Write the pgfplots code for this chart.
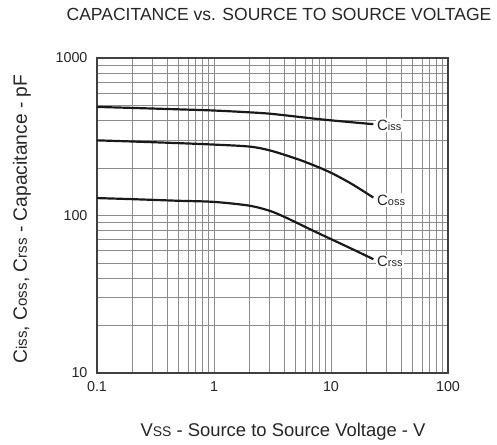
\documentclass[border=0pt]{standalone}
\usepackage{fontspec}
\setmainfont{Liberation Sans}
\usepackage{pgfplots}
\pgfplotsset{compat=1.18}
\definecolor{txt}{gray}{0.15}
\begin{document}
\begin{tikzpicture}[every node/.style={text=txt}]
\begin{loglogaxis}[
  at={(0,0)}, anchor=south west,
  scale only axis, width=351bp, height=315bp,
  xmin=0.1, xmax=100, ymin=10, ymax=1000,
  xtick={0.1,1,10,100}, xticklabels={0.1,1,10,100},
  ytick={10,100,1000}, yticklabels={10,100,1000},
  grid=both,
  major grid style={draw=black!45, line width=0.8pt},
  minor grid style={draw=black!45, line width=0.8pt},
  major tick length=0pt, minor tick length=0pt,
  tick style={draw=none},
  axis line style={draw=black!75, line width=1.6pt},
  ticklabel style={font=\fontsize{14.4}{16}\selectfont, text=txt},
  xticklabel style={yshift=-5bp},
  yticklabel style={xshift=-6bp},
  clip=false,
]
\addplot[black!90, line width=2.2pt, smooth] coordinates {
  (0.1,489) (0.2,482) (0.5,472) (1,464) (2,452) (3,443) (5,425) (7,413) (10,402) (15,391) (23,380)};
\addplot[black!90, line width=2.2pt, smooth] coordinates {
  (0.1,300) (0.2,295) (0.5,288) (1,282) (2,274) (3,259) (5,230) (7,209.4) (10,186.8) (15,158.8) (23,130)};
\addplot[black!90, line width=2.2pt, smooth] coordinates {
  (0.1,129) (0.2,127) (0.5,124) (1,122) (2,115.5) (3,107) (4,98) (5,90.5) (7,80.2) (10,70.8) (15,61.5) (23,52.8)};
\node[anchor=west, fill=white, inner sep=1.5pt] at (axis cs:24,376) {\fontsize{15}{16}\selectfont C\fontsize{11}{12}\selectfont iss};
\node[anchor=west, fill=white, inner sep=1.5pt] at (axis cs:24,125) {\fontsize{15}{16}\selectfont C\fontsize{11}{12}\selectfont oss};
\node[anchor=west, fill=white, inner sep=1.5pt] at (axis cs:24,51) {\fontsize{15}{16}\selectfont C\fontsize{11}{12}\selectfont rss};
\end{loglogaxis}
\node at (182bp,359bp) {\fontsize{17.6}{20}\selectfont CAPACITANCE vs. SOURCE TO SOURCE VOLTAGE};
\node at (186bp,-59bp) {\fontsize{18.5}{20}\selectfont V\fontsize{14}{15}\selectfont SS\fontsize{18.5}{20}\selectfont{} - Source to Source Voltage - V};
\node[rotate=90] at (-75bp,154bp) {\fontsize{19.3}{20}\selectfont C\fontsize{15.2}{16}\selectfont iss\fontsize{19.3}{20}\selectfont, C\fontsize{15.2}{16}\selectfont oss\fontsize{19.3}{20}\selectfont, C\fontsize{15.2}{16}\selectfont rss\fontsize{19.3}{20}\selectfont{} - Capacitance - pF};
\pgfresetboundingbox
\path[use as bounding box] (-97bp,-72bp) rectangle (400bp,373bp);
\end{tikzpicture}
\end{document}
